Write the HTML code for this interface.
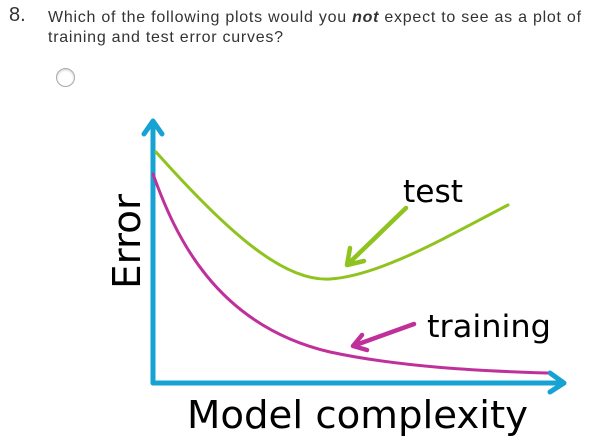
<!DOCTYPE html>
<html><head><meta charset="utf-8"><style>
html,body{margin:0;padding:0;background:#fff;}
body{width:604px;height:446px;position:relative;overflow:hidden;font-family:"Liberation Sans",Arial,sans-serif;}
.num{position:absolute;left:9px;top:4px;font-size:20px;color:#333;}
.q{position:absolute;left:48px;top:8px;font-size:16px;letter-spacing:0.75px;line-height:20px;color:#333;width:560px;white-space:nowrap;}
.radio{position:absolute;left:56px;top:68px;width:17px;height:17px;border:1.5px solid #aaa;border-radius:50%;box-shadow:inset 0 1px 2px #ccc;}
svg{position:absolute;left:0;top:0;}
</style></head><body>
<div class="num">8.</div>
<div class="q">Which of the following plots would you <b><i>not</i></b> expect to see as a plot of<br>training and test error curves?</div>
<div class="radio"></div>
<svg width="604" height="446" viewBox="0 0 604 446">
<g fill="none" stroke-linecap="round" stroke-linejoin="round">
<path d="M153 383 V122 M144 134 L153 121 L162 134" stroke="#16a3d4" stroke-width="5"/>
<path d="M153 383 H562 M550 373 L564 383 L550 392" stroke="#16a3d4" stroke-width="5"/>
<path d="M156 152 C230 235,285 282,330 279 C380 276,450 235,508 205" stroke="#8fc31f" stroke-width="3"/>
<path d="M153 174 C175 235,215 325,330 352 C400 367,480 371,547 373" stroke="#c0309b" stroke-width="3"/>
<path d="M406 208 L347 265 M350 248 L347 265 L364 261" stroke="#8fc31f" stroke-width="4.5"/>
<path d="M414 324 L353 346 M362 335 L353 346 L367 350" stroke="#c0309b" stroke-width="4.5"/>
</g>
<g font-family="'DejaVu Sans','Liberation Sans',sans-serif" fill="#000">
<text x="403" y="202" font-size="31" textLength="60" lengthAdjust="spacingAndGlyphs">test</text>
<text x="427" y="337" font-size="31" textLength="124" lengthAdjust="spacingAndGlyphs">training</text>
<text x="187" y="428" font-size="38" textLength="341" lengthAdjust="spacingAndGlyphs">Model complexity</text>
<text transform="translate(140,289) rotate(-90)" font-size="38" textLength="95" lengthAdjust="spacingAndGlyphs">Error</text>
</g>
</svg>
</body></html>
